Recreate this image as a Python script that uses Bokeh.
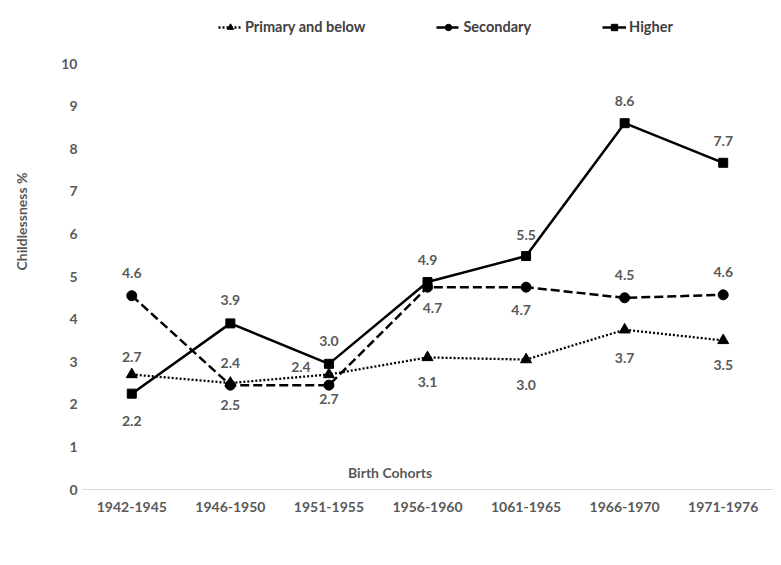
from bokeh.plotting import figure
from bokeh.models import (ColumnDataSource, FactorRange, Range1d, FixedTicker,
                          Legend, LegendItem, Label, Title)
from bokeh.core.properties import value
from bokeh.embed import file_html
from bokeh.resources import INLINE

# ---- data ----
categories = ["1942-1945", "1946-1950", "1951-1955", "1956-1960",
              "1061-1965", "1966-1970", "1971-1976"]
primary = [2.7, 2.5, 2.7, 3.1, 3.05, 3.75, 3.5]
secondary = [4.55, 2.45, 2.45, 4.75, 4.75, 4.5, 4.57]
higher = [2.25, 3.9, 2.95, 4.87, 5.48, 8.6, 7.67]

primary_labels = ["2.7", "2.4", "2.4", "3.1", "3.0", "3.7", "3.5"]
secondary_labels = ["4.6", "2.5", "2.7", "4.7", "4.7", "4.5", "4.6"]
higher_labels = ["2.2", "3.9", "3.0", "4.9", "5.5", "8.6", "7.7"]

y_ticks = [0, 1, 2, 3, 4, 5, 6, 7, 8, 9, 10]

# label offsets (screen px)
primary_dx = [0, 0, -28, 0, 0, 0, 0]
primary_dy = [-17, -20, -7, 25, 25, 28, 25]
secondary_dx = [0, 0, 0, 5, -5, 0, 0]
secondary_dy = [-23, 20, 14, 21, 23, -23, -23]
higher_dx = [0, 0, 0, 0, 0, 0, 0]
higher_dy = [27, -23, -23, -22, -21, -22, -22]

FONT = "Lato"
GRAY = "#595959"

p = figure(x_range=FactorRange(*categories), y_range=Range1d(0, 11.48),
           width=775, height=560, output_backend="svg", toolbar_location=None,
           min_border_left=82, min_border_right=3, min_border_top=0,
           min_border_bottom=71)
p.outline_line_color = None
p.xgrid.grid_line_color = None
p.ygrid.grid_line_color = None

p.yaxis.ticker = FixedTicker(ticks=y_ticks)
p.yaxis.axis_line_color = None
p.yaxis.major_tick_line_color = None
p.yaxis.minor_tick_line_color = None
p.yaxis.major_tick_out = 0
p.yaxis.major_tick_in = 0
p.yaxis.major_label_standoff = 5
# blank axis label only reserves room so the title below sits further left
p.yaxis.axis_label = " "
p.yaxis.axis_label_standoff = 10
p.yaxis.axis_label_text_font_size = "13px"
p.xaxis.axis_line_color = "#d9d9d9"
p.xaxis.major_tick_line_color = None
p.xaxis.minor_tick_line_color = None
p.xaxis.major_tick_out = 0
p.xaxis.major_tick_in = 0
p.xaxis.major_label_standoff = 12
for ax in (p.xaxis, p.yaxis):
    ax.major_label_text_font = FONT
    ax.major_label_text_font_style = "bold"
    ax.major_label_text_font_size = "14px"
    ax.major_label_text_color = GRAY

series = [
    (primary, primary_labels, primary_dx, primary_dy, "triangle", 11, "2 2", 2.3, "Primary and below"),
    (secondary, secondary_labels, secondary_dx, secondary_dy, "circle", 10, "9 4", 2.5, "Secondary"),
    (higher, higher_labels, higher_dx, higher_dy, "square", 9, "solid", 2.5, "Higher"),
]

items = []
for vals, labs, dx, dy, marker, size, dash, lw, name in series:
    src = ColumnDataSource(dict(x=categories, y=vals, t=labs, dx=dx, dy=dy))
    ln = p.line("x", "y", source=src, line_color="black", line_width=lw, line_dash=dash)
    sc = p.scatter("x", "y", source=src, marker=marker, size=size,
                   fill_color="black", line_color="black")
    p.text("x", "y", text="t", source=src, x_offset="dx", y_offset="dy",
           text_align="center", text_baseline="middle",
           text_font=value(FONT), text_font_style="bold",
           text_font_size="14px", text_color=GRAY)
    items.append(LegendItem(label=name, renderers=[ln, sc]))

legend = Legend(items=items, orientation="horizontal", location=(136, 454),
                glyph_width=24, glyph_height=16, label_height=16,
                label_standoff=3, spacing=71,
                padding=5, margin=0, border_line_color=None,
                background_fill_alpha=0,
                label_text_font=FONT, label_text_font_style="bold",
                label_text_font_size="14.5px", label_text_color="#404040")
p.add_layout(legend, "center")

p.add_layout(Label(x=3.12, y=0.4, text="Birth Cohorts", text_align="center",
                   text_baseline="middle", text_font=FONT, text_font_style="bold",
                   text_font_size="14px", text_color=GRAY))

ytitle = Title(text="Childlessness %", align="left", offset=219,
               vertical_align="middle", text_font=FONT, text_font_style="bold",
               text_font_size="14px", text_color=GRAY, standoff=0)
p.add_layout(ytitle, "left")

open("out.html", "w").write(file_html(p, INLINE))
